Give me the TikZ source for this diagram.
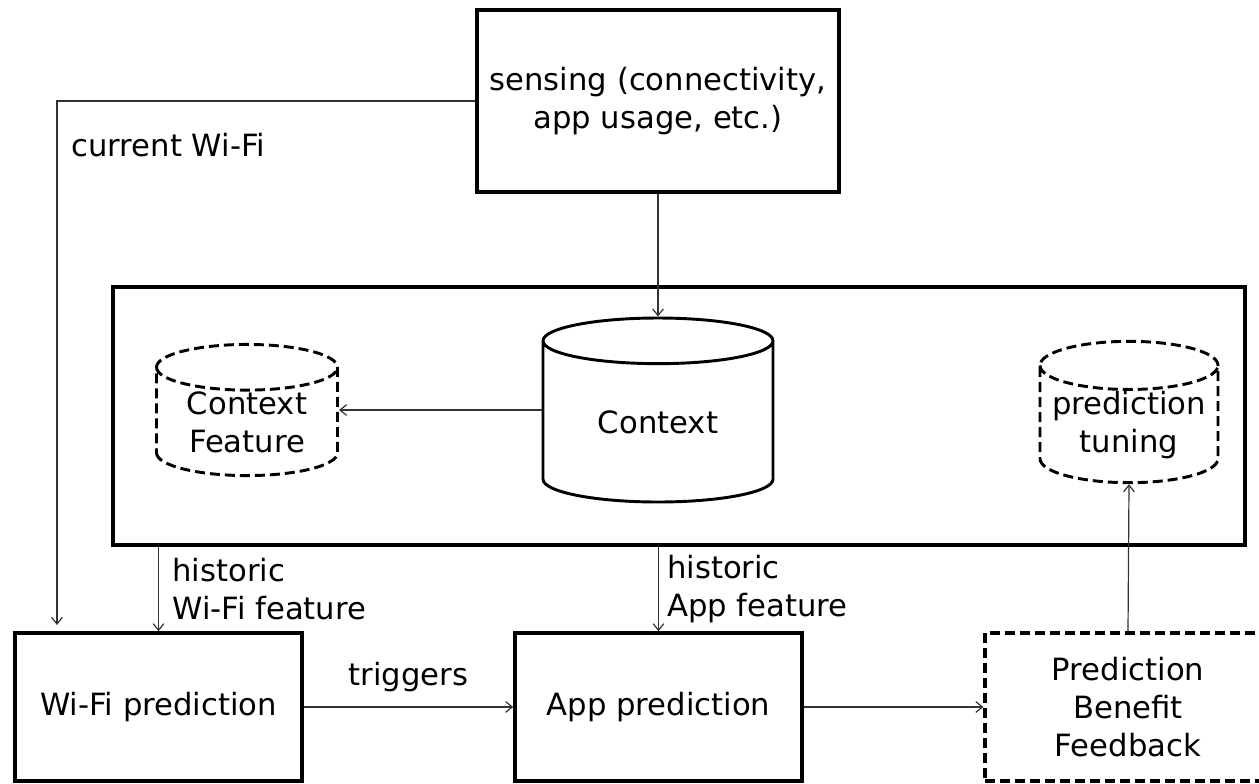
\documentclass[tikz,border=0pt]{standalone}
\usepackage{fontspec}
\setmainfont{DejaVu Sans}
\usetikzlibrary{positioning, arrows.meta, shapes.geometric}

\begin{document}
\begin{tikzpicture}[
  x=0.75pt, y=-0.75pt,
  font=\fontsize{23}{28.5}\selectfont,
  box/.style={draw, line width=2.6pt, align=center, inner sep=0pt},
  dbox/.style={draw, line width=2.4pt, dash pattern=on 7.5pt off 3.75pt, align=center, inner sep=0pt},
  db/.style={cylinder, shape border rotate=90, aspect=0.38, anchor=shape center, draw, line width=2.2pt, align=center, inner sep=0pt},
  ddb/.style={db, dash pattern=on 7.5pt off 3.75pt},
  lbl/.style={inner sep=0pt, align=left, text=black},
  arr/.style={-{Straight Barb[length=5pt, width=8pt]}, line width=0.9pt, draw=black!80}
]
\useasboundingbox (0,0) rectangle (1259,783);

% --- sensing ---
\node[box, minimum width=271.5pt, minimum height=136.5pt] (sensing) at (658,101)
  {sensing (connectivity,\\app usage, etc.)};

% --- history container ---
\node[box, minimum width=849pt, minimum height=193.5pt] (hist) at (679,416) {};
\node[db, minimum width=172.5pt, minimum height=138pt] (context) at (658,410) {Context};
\node[ddb, minimum width=135.75pt, minimum height=93pt] (cfeat) at (247,410) {Context\\Feature};
\node[ddb, minimum width=133.5pt, minimum height=90.75pt] (tuning) at (1129,412) {\makebox[95pt]{prediction}\\tuning};

% --- prediction row ---
\node[box, minimum width=215.25pt, minimum height=111pt] (wifi) at (158.5,707) {Wi-Fi prediction};
\node[box, minimum width=215.25pt, minimum height=111pt] (app) at (658.5,707) {App prediction};
\node[dbox, minimum width=214.5pt, minimum height=111pt] (feedback) at (1128,707) {Prediction\\Benefit\\Feedback};

\coordinate (cwifi) at (57,625);

\draw[arr] (sensing.south) -- (context.north);
\draw[arr] (context.west |- context.shape center) -- (cfeat.east |- context.shape center);
\draw[arr] (sensing.west) -| node[lbl, pos=0.542, anchor=west, xshift=10.5pt] {current Wi-Fi} (cwifi);
\draw[arr] (hist.south -| wifi.north) -- node[lbl, anchor=west, xshift=10pt] {historic\\Wi-Fi feature} (wifi.north);
\draw[arr] (hist.south -| app.north) -- node[lbl, anchor=west, xshift=6pt] {historic\\App feature} (app.north);
\draw[arr] (wifi.east) -- node[lbl, yshift=22.5pt] {triggers} (app.west);
\draw[arr] (app.east) -- (feedback.west);
\draw[arr] (feedback.north) -- (tuning.south);
\end{tikzpicture}
\end{document}
